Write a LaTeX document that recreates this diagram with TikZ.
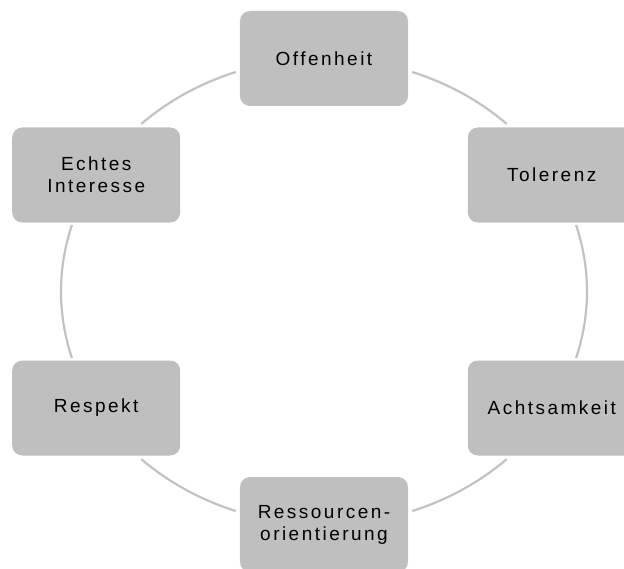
\documentclass[tikz,border=0pt]{standalone}
\usepackage{fontspec}
\setmainfont{Liberation Sans}[LetterSpace=13]
\usepackage{xcolor}
\colorlet{boxgray}{black!25}
\colorlet{ringgray}{black!24}
\tikzset{
    wert/.style={rectangle, rounded corners=10pt, fill=boxgray, minimum width=168pt, minimum height=95pt,
        inner sep=0pt, align=center, font=\fontsize{19pt}{22pt}\selectfont},
    ring/.style={ringgray, line width=2.2pt},
}

\begin{document}
\begin{tikzpicture}
    \useasboundingbox (-324pt, -276.5pt) rectangle (300pt, 291.5pt);
    \coordinate (c) at (0, 0);

    % Werte auf der Ellipse
    \node [wert] (off)  at ([shift={(90:263pt and 233pt)}]c) {Offenheit};
    \node [wert] (tol)  at ([shift={(30:263pt and 233pt)}]c) {Tolerenz};
    \node [wert] (acht) at ([shift={(-30:263pt and 233pt)}]c) {Achtsamkeit};
    \node [wert] (ress) at ([shift={(-90:263pt and 233pt)}]c) {Ressourcen-\\orientierung};
    \node [wert] (resp) at ([shift={(-150:263pt and 233pt)}]c) {Respekt};
    \node [wert] (echt) at ([shift={(150:263pt and 233pt)}]c) {Echtes\\Interesse};

    % Boegen zwischen den Werten
    \draw [ring] ([shift={(70.4:263pt and 233pt)}]c) arc [start angle=70.4, end angle=46, x radius=263pt, y radius=233pt];
    \draw [ring] ([shift={(16.6:263pt and 233pt)}]c) arc [start angle=16.6, end angle=-16.6, x radius=263pt, y radius=233pt];
    \draw [ring] ([shift={(-46:263pt and 233pt)}]c) arc [start angle=-46, end angle=-70.4, x radius=263pt, y radius=233pt];
    \draw [ring] ([shift={(-109.6:263pt and 233pt)}]c) arc [start angle=-109.6, end angle=-134, x radius=263pt, y radius=233pt];
    \draw [ring] ([shift={(-163.4:263pt and 233pt)}]c) arc [start angle=-163.4, end angle=-196.6, x radius=263pt, y radius=233pt];
    \draw [ring] ([shift={(134:263pt and 233pt)}]c) arc [start angle=134, end angle=109.6, x radius=263pt, y radius=233pt];
\end{tikzpicture}
\end{document}
